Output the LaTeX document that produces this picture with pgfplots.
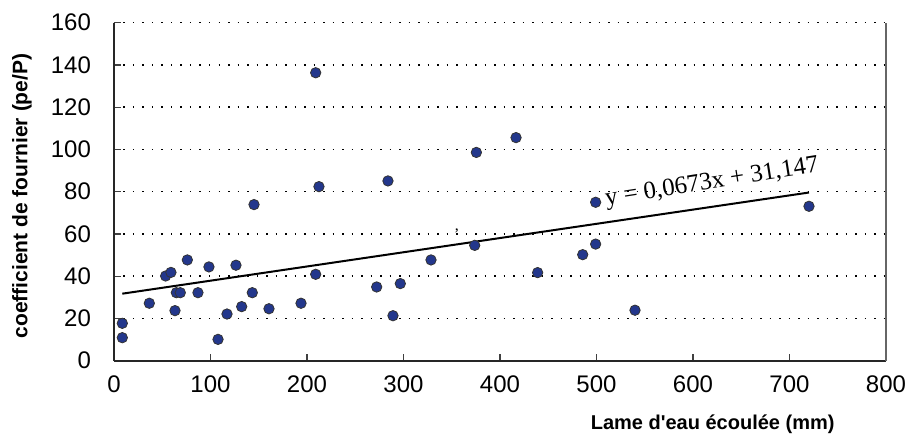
\documentclass[border=0pt]{standalone}
\usepackage{pgfplots}
\pgfplotsset{compat=1.18}
\usepackage{fontspec}
\setmainfont{Liberation Sans}
\newfontfamily\timesfont{Liberation Serif}
\definecolor{markblue}{RGB}{35,55,140}
\newcommand{\straightquote}{\XeTeXglyph\XeTeXcharglyph"27\relax}
\begin{document}
\begin{tikzpicture}
\useasboundingbox (-57pt,-37.15pt) rectangle (397.5pt,180.35pt);
\begin{axis}[
  scale only axis, width=386pt, height=169pt,
  at={(0,0)}, anchor=south west,
  xmin=0, xmax=800, ymin=0, ymax=160,
  xtick={0,100,...,800}, ytick={0,20,...,160},
  axis lines*=left,
  axis line style={line width=1pt, black!85},
  ymajorgrids,
  grid style={black, line width=0.75pt, dash pattern=on 0.75pt off 4pt},
  tick style={black!75, line width=0.6pt},
  xtick align=inside, ytick align=inside,
  major tick length=3.5pt,
  ticklabel style={font=\fontsize{12}{14}\selectfont},
  xticklabel style={yshift=-4pt},
  yticklabel style={xshift=-8pt},
  /pgf/number format/assume math mode=true,
  clip=false,
]
\addplot[only marks, mark=*, mark size=2.6pt,
  mark options={fill=markblue, draw=black!80, line width=0.4pt}]
  table {
x y
8.6 17.7
8.6 10.9
36.6 27.2
53.5 40.1
59 41.8
63.2 23.7
64.6 32.2
68.7 32.2
76 47.7
87 32.2
98.4 44.4
107.8 10.1
117.1 22.1
126.4 45.2
132.3 25.6
143.3 32.2
145.1 73.9
160.6 24.6
193.8 27.2
209 136.3
209 40.9
212.4 82.4
272.2 34.9
283.9 85.1
289.1 21.3
296.7 36.5
328.5 47.7
373.8 54.6
375.5 98.6
416.6 105.6
439 41.7
485.7 50.2
499.1 55.2
499.1 75.0
539.9 23.9
720.2 73.1
};
\addplot[black, line width=1pt] coordinates {(8.6,31.726) (720.2,79.616)};
\draw[black!60, line width=0.6pt] (rel axis cs:1,0) -- (rel axis cs:1,1);
\node[rotate=9, font=\timesfont\fontsize{12.5}{14}\selectfont] at (axis cs:619.7,84.1) {y = 0,0673x + 31,147};
\node[font=\timesfont\fontsize{8}{9}\selectfont] at (axis cs:355.4,61.5) {,};
\node[rotate=90, font=\bfseries\fontsize{10.5}{12}\selectfont] at ([xshift=-46pt,yshift=82.35pt]rel axis cs:0,0) {coefficient de fournier (pe/P)};
\node[anchor=east, font=\bfseries\fontsize{10}{12}\selectfont] at ([xshift=363.8pt,yshift=-31.8pt]rel axis cs:0,0) {Lame d\straightquote eau écoulée (mm)};
\end{axis}
\end{tikzpicture}
\end{document}
